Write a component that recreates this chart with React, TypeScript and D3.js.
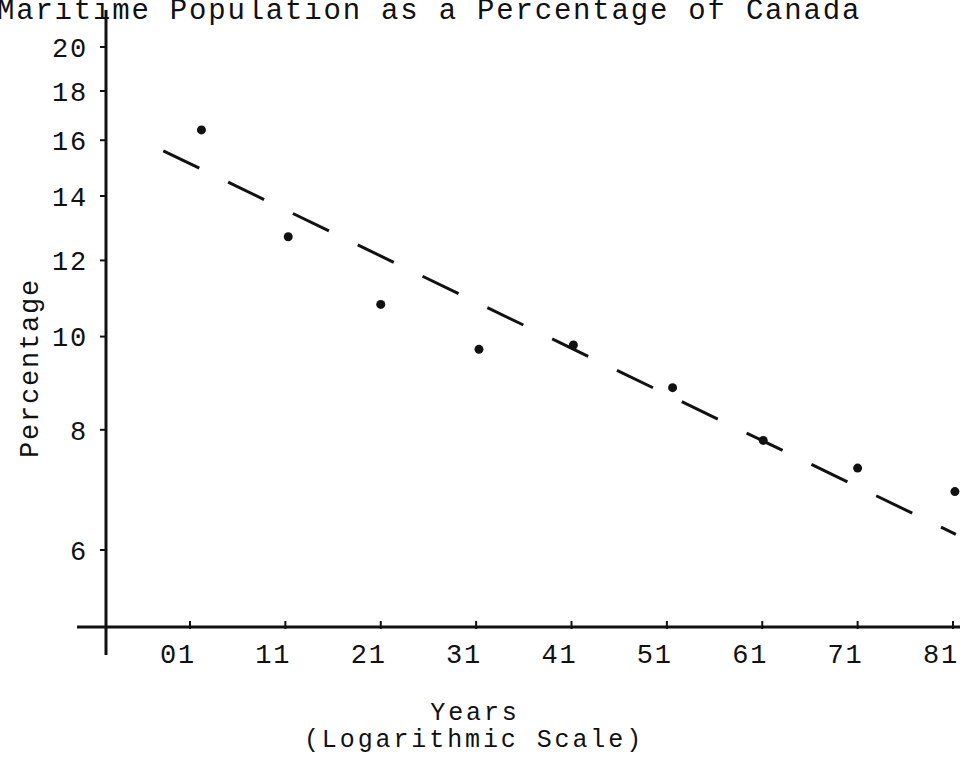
import React from 'react';
import * as d3 from 'd3';

// census years (as plotted) and Maritime share of Canada's population, %
const years = [1902.2, 1911.3, 1921.0, 1931.3, 1941.2, 1951.6, 1961.1, 1971.0, 1981.2];
const percents = [16.4, 12.7, 10.8, 9.7, 9.8, 8.85, 7.8, 7.3, 6.9];

// fitted trend line, endpoints
const trendYears = [1898.2, 1981.3];
const trendPercents = [15.6, 6.23];

const xTicks = [1901, 1911, 1921, 1931, 1941, 1951, 1961, 1971, 1981];
const xTickLabels = ['01', '11', '21', '31', '41', '51', '61', '71', '81'];
const yTicks = [6, 8, 10, 12, 14, 16, 18, 20];

const font = '"Liberation Mono", "DejaVu Sans Mono", monospace';

const App = () => {
  const width = 962, height = 765;
  const axisX = 106, axisY = 627;

  const x = d3.scaleLinear().domain([1901, 1981]).range([190, 953]);
  const y = d3.scaleLog().domain([6, 20]).range([550, 47]);

  const trend = d3.line<number>()
    .x((d, i) => x(trendYears[i]))
    .y((d, i) => y(trendPercents[i]));

  // typewriter-ish text: smaller glyphs, wide pitch
  const txt = { fontFamily: font, fontSize: 27, letterSpacing: 1.8, fill: '#111' };
  const sub = { fontFamily: font, fontSize: 25, letterSpacing: 2.9, fill: '#111' };

  return (
    <svg width={width} height={height} style={{ position: 'absolute', left: 0, top: 0, background: '#fff' }}>
      <text x={-3} y={19} fontFamily={font} fontSize={29} letterSpacing={1.8} fill="#111">
        Maritime Population as a Percentage of Canada
      </text>

      {/* y axis */}
      <line x1={axisX} x2={axisX} y1={10} y2={655} stroke="#111" strokeWidth={3} />
      {yTicks.map(t => (
        <g key={t}>
          <line x1={axisX - 6} x2={axisX} y1={y(t)} y2={y(t)} stroke="#111" strokeWidth={2} />
          <text x={88} y={y(t)} dy="0.36em" textAnchor="end" {...txt}>
            {t}
          </text>
        </g>
      ))}
      <text transform={`translate(38,368) rotate(-90)`} textAnchor="middle" {...txt}>
        Percentage
      </text>

      {/* x axis */}
      <line x1={77} x2={960} y1={axisY} y2={axisY} stroke="#111" strokeWidth={3} />
      {xTicks.map((t, i) => (
        <g key={t}>
          <line x1={x(t)} x2={x(t)} y1={axisY - 6} y2={axisY + 2} stroke="#111" strokeWidth={2} />
          <text x={x(t) - 12} y={663} textAnchor="middle" {...txt}>
            {xTickLabels[i]}
          </text>
        </g>
      ))}
      <text x={475} y={720} textAnchor="middle" {...sub}>Years</text>
      <text x={474} y={747} textAnchor="middle" {...sub}>(Logarithmic Scale)</text>

      {/* trend */}
      <path d={trend(trendYears) || ''} fill="none" stroke="#111" strokeWidth={3} strokeDasharray="40,32" />

      {/* points */}
      {years.map((yr, i) => (
        <circle key={yr} cx={x(yr)} cy={y(percents[i])} r={4.5} fill="#111" />
      ))}
    </svg>
  );
};

export default App;
